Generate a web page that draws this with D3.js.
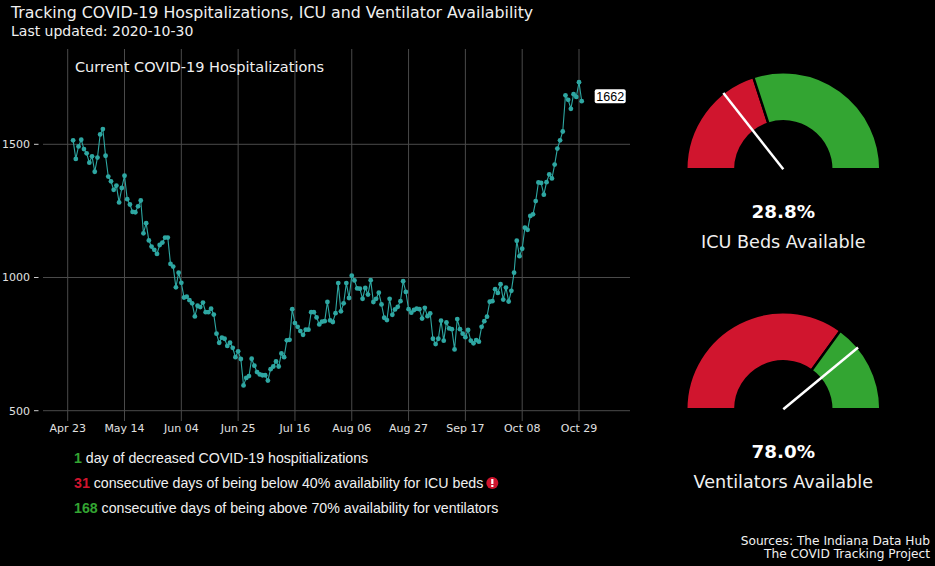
<!DOCTYPE html>
<html>
<head>
<meta charset="utf-8">
<script src="https://cdn.jsdelivr.net/npm/d3@7"></script>
<style>
  html, body { margin: 0; padding: 0; background: #000; }
  svg { display: block; }
</style>
</head>
<body>
<svg id="chart" width="935" height="566"></svg>
<script>
// Daily hospitalizations, Apr 25 – Oct 30 2020
const firstDay = "2020-04-25";
const hospitalized = [
  1515, 1445, 1492, 1517, 1482, 1466, 1431, 1455, 1397, 1450,
  1537, 1557, 1457, 1379, 1361, 1329, 1345, 1282, 1336, 1382,
  1294, 1274, 1246, 1245, 1267, 1289, 1166, 1204, 1139, 1116,
  1104, 1089, 1122, 1131, 1150, 1150, 1051, 1041, 963, 1018,
  980, 925, 928, 915, 903, 854, 894, 889, 906, 870,
  870, 883, 861, 789, 755, 774, 770, 743, 755, 736,
  701, 723, 694, 595, 623, 630, 695, 669, 645, 636,
  633, 633, 613, 656, 666, 685, 666, 715, 701, 764,
  766, 881, 829, 815, 799, 785, 804, 804, 870, 870,
  850, 824, 834, 836, 908, 839, 833, 866, 979, 873,
  903, 979, 923, 1007, 989, 959, 958, 920, 961, 936,
  990, 908, 920, 943, 899, 849, 840, 920, 860, 880,
  890, 911, 986, 946, 881, 868, 878, 883, 881, 846,
  886, 855, 865, 770, 750, 770, 838, 763, 831, 809,
  806, 730, 844, 806, 789, 776, 803, 763, 753, 765,
  759, 815, 836, 853, 909, 911, 956, 942, 975, 917,
  962, 910, 950, 1018, 1138, 1080, 1108, 1187, 1179, 1231,
  1237, 1287, 1357, 1355, 1311, 1358, 1387, 1372, 1424, 1484,
  1515, 1548, 1684, 1667, 1633, 1688, 1678, 1733, 1662
];
const xTickDates = ["2020-04-23", "2020-05-14", "2020-06-04", "2020-06-25",
  "2020-07-16", "2020-08-06", "2020-08-27", "2020-09-17", "2020-10-08", "2020-10-29"];
const yTicks = [500, 1000, 1500];

const gaugeNames = ["ICU Beds Available", "Ventilators Available"];
const gaugeValues = [28.8, 78.0];
const gaugeThresholds = [40, 70];

const statNumbers = [1, 31, 168];
const statTexts = [
  "day of decreased COVID-19 hospitializations",
  "consecutive days of being below 40% availability for ICU beds",
  "consecutive days of being above 70% availability for ventilators"
];
const statGood = [true, false, true];

const RED = "#d0152e";
const GREEN = "#33a532";
const TEAL = "#2ea7a2";
const GRID = "#4a4a4a";
const TEXT = "#f0f0f0";

const svg = d3.select("#chart");
const parse = d3.utcParse("%Y-%m-%d");

const start = parse(firstDay);
const series = hospitalized.map((v, i) => ({ date: d3.utcDay.offset(start, i), value: v }));

// Titles
svg.append("text").attr("x", 11).attr("y", 18)
  .attr("font-family", "DejaVu Sans").attr("font-size", 15.8).attr("fill", TEXT)
  .text("Tracking COVID-19 Hospitalizations, ICU and Ventilator Availability");
svg.append("text").attr("x", 11).attr("y", 36)
  .attr("font-family", "DejaVu Sans").attr("font-size", 14).attr("fill", TEXT)
  .text("Last updated: 2020-10-30");

// Line chart
const panel = { left: 43, right: 630, top: 49, bottom: 421 };

const x = d3.scaleUtc()
  .domain([parse("2020-04-23"), parse("2020-10-29")])
  .range([67.7, 579]);
const y = d3.scaleLinear().domain([500, 1500]).range([410.7, 144.3]);

const g = svg.append("g");

g.selectAll("line.vgrid").data(xTickDates.map(parse)).join("line")
  .attr("class", "vgrid")
  .attr("x1", d => x(d)).attr("x2", d => x(d))
  .attr("y1", panel.top).attr("y2", panel.bottom)
  .attr("stroke", GRID).attr("stroke-width", 1);

g.selectAll("line.hgrid").data(yTicks).join("line")
  .attr("class", "hgrid")
  .attr("x1", panel.left).attr("x2", panel.right)
  .attr("y1", d => y(d)).attr("y2", d => y(d))
  .attr("stroke", GRID).attr("stroke-width", 1);

// y ticks + labels
g.selectAll("line.ytick").data(yTicks).join("line")
  .attr("class", "ytick")
  .attr("x1", 34).attr("x2", 38.5)
  .attr("y1", d => y(d)).attr("y2", d => y(d))
  .attr("stroke", "#cccccc").attr("stroke-width", 1);
g.selectAll("text.ylab").data(yTicks).join("text")
  .attr("class", "ylab")
  .attr("x", 30).attr("y", d => y(d)).attr("dy", "0.35em")
  .attr("text-anchor", "end")
  .attr("font-family", "DejaVu Sans").attr("font-size", 11).attr("fill", "#e0e0e0")
  .text(d => d);

const fmt = d3.utcFormat("%b %d");
g.selectAll("text.xlab").data(xTickDates.map(parse)).join("text")
  .attr("class", "xlab")
  .attr("x", d => x(d)).attr("y", 432)
  .attr("text-anchor", "middle")
  .attr("font-family", "DejaVu Sans").attr("font-size", 11).attr("fill", "#e0e0e0")
  .text(d => fmt(d));

g.append("text").attr("x", 75).attr("y", 72)
  .attr("font-family", "DejaVu Sans").attr("font-size", 14.5).attr("fill", TEXT)
  .text("Current COVID-19 Hospitalizations");

const line = d3.line().x(d => x(d.date)).y(d => y(d.value));
g.append("path").datum(series)
  .attr("d", line).attr("fill", "none")
  .attr("stroke", TEAL).attr("stroke-width", 1.1);
g.selectAll("circle.pt").data(series).join("circle")
  .attr("class", "pt")
  .attr("cx", d => x(d.date)).attr("cy", d => y(d.value))
  .attr("r", 2.4).attr("fill", TEAL);

// last value label
const last = series[series.length - 1];
const lx = x(last.date) + 13, ly = y(last.value) - 5;
const lbl = g.append("g").attr("transform", `translate(${lx},${ly})`);
lbl.append("rect").attr("x", 0).attr("y", -7).attr("width", 31).attr("height", 14)
  .attr("rx", 2).attr("fill", "#ffffff");
lbl.append("text").attr("x", 15.5).attr("y", 0).attr("dy", "0.36em")
  .attr("text-anchor", "middle")
  .attr("font-family", "Liberation Sans").attr("font-size", 12.5).attr("fill", "#000")
  .text(last.value);

// Gauges
const angle = d3.scaleLinear().domain([0, 100]).range([-Math.PI / 2, Math.PI / 2]);
const rOuter = 97, rInner = 48;
const arc = d3.arc().innerRadius(rInner).outerRadius(rOuter);
const gaugeCenters = [[783.3, 169.3], [783.3, 409.3]];

gaugeNames.forEach((name, i) => {
  const gg = svg.append("g")
    .attr("transform", `translate(${gaugeCenters[i][0]},${gaugeCenters[i][1]})`);
  const segs = [
    { from: 0, to: gaugeThresholds[i], color: RED },
    { from: gaugeThresholds[i], to: 100, color: GREEN }
  ];
  gg.selectAll("path.seg").data(segs).join("path")
    .attr("class", "seg")
    .attr("d", d => arc({ startAngle: angle(d.from), endAngle: angle(d.to) }))
    .attr("fill", d => d.color)
    .attr("stroke", "#000").attr("stroke-width", 2.4);
  const a = angle(gaugeValues[i]);
  gg.append("line")
    .attr("x1", 0).attr("y1", 0)
    .attr("x2", rOuter * Math.sin(a)).attr("y2", -rOuter * Math.cos(a))
    .attr("stroke", "#fff").attr("stroke-width", 2.5);
  gg.append("text").attr("x", 0).attr("y", 48.5)
    .attr("text-anchor", "middle")
    .attr("font-family", "DejaVu Sans").attr("font-weight", "bold")
    .attr("font-size", 18.3).attr("fill", "#fff")
    .text(gaugeValues[i].toFixed(1) + "%");
  gg.append("text").attr("x", 0).attr("y", 78.5)
    .attr("text-anchor", "middle")
    .attr("font-family", "DejaVu Sans").attr("font-size", 17.6).attr("fill", TEXT)
    .text(name);
});

// Summary lines
const stats = svg.append("g").attr("font-family", "Liberation Sans").attr("font-size", 14.2);
statNumbers.forEach((n, i) => {
  const t = stats.append("text").attr("x", 74).attr("y", 463 + i * 25).attr("fill", TEXT);
  t.append("tspan").attr("font-weight", "bold").attr("fill", statGood[i] ? GREEN : RED).text(n);
  t.append("tspan").text(" " + statTexts[i]);
  if (!statGood[i]) {
    const w = t.node().getComputedTextLength();
    const ix = 74 + w + 9, iy = 463 + i * 25 - 5;
    stats.append("circle").attr("cx", ix).attr("cy", iy).attr("r", 6).attr("fill", RED);
    stats.append("rect").attr("x", ix - 1.1).attr("y", iy - 4).attr("width", 2.2).attr("height", 5)
      .attr("fill", "#fff");
    stats.append("rect").attr("x", ix - 1.1).attr("y", iy + 2).attr("width", 2.2).attr("height", 2)
      .attr("fill", "#fff");
  }
});

// Sources
const src = svg.append("g").attr("font-family", "DejaVu Sans").attr("font-size", 12.2)
  .attr("fill", TEXT).attr("text-anchor", "end");
src.append("text").attr("x", 930).attr("y", 545).text("Sources: The Indiana Data Hub");
src.append("text").attr("x", 930).attr("y", 558).text("The COVID Tracking Project");
</script>
</body>
</html>
